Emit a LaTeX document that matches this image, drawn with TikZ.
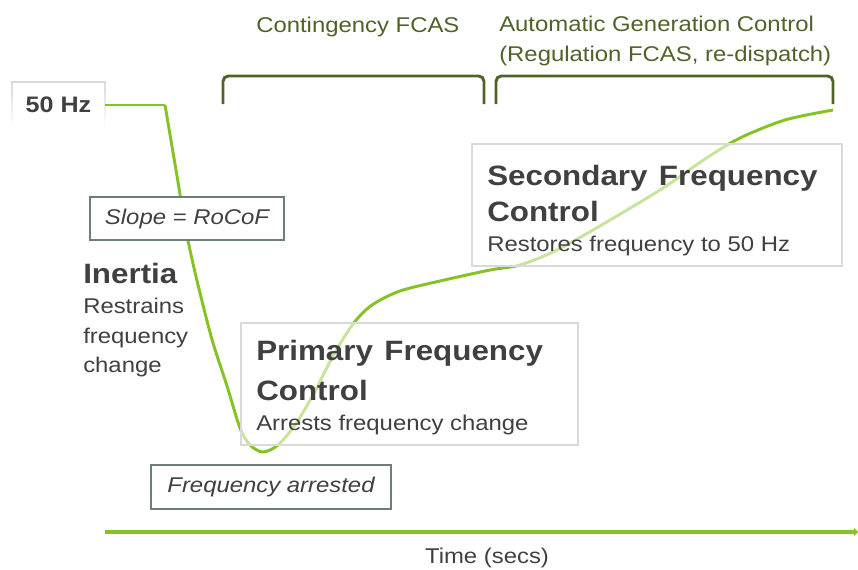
\documentclass[tikz,border=0pt]{standalone}
\usepackage{fontspec}
\setmainfont{Liberation Sans}[FakeStretch=1.12]
\usetikzlibrary{arrows.meta,fadings}
\definecolor{txt}{HTML}{404040}
\definecolor{curvegreen}{HTML}{84C225}
\definecolor{brk}{HTML}{4F6228}
\definecolor{boxln}{HTML}{D9D9D9}
\definecolor{labln}{HTML}{6C8076}
\tikzset{
  txtnode/.style={inner sep=0pt, text=txt, anchor=base west},
  regular/.style={font=\fontsize{16}{19}\selectfont},
  italictxt/.style={font={\fontsize{16}{19}\selectfont\itshape}},
  boldtitle/.style={font=\fontsize{21}{25}\selectfont\bfseries},
  greentxt/.style={inner sep=0pt, text=brk, anchor=base west, font=\fontsize{16}{19}\selectfont},
  bracketline/.style={draw=brk, line width=2.2pt, rounded corners=4pt},
  freqcurve/.style={draw=curvegreen, line width=2.2pt},
  labelbox/.style={draw=labln, line width=1.4pt, fill=white},
  infobox/.style={draw=boxln, line width=0.8pt, fill=white, fill opacity=0.55},
}
\begin{document}
\begin{tikzpicture}[x=0.75pt,y=-0.75pt]
\useasboundingbox (0,0) rectangle (858,569);

% brackets
\draw[bracketline] (223,104) -- (223,76) -- (484,76) -- (484,104);
\draw[bracketline] (496,104) -- (496,76) -- (833,76) -- (833,104);
\node[greentxt] (cont) at (256,32) {Contingency FCAS};
\node[greentxt] (agc1) at (499,31) {Automatic Generation Control};
\node[greentxt] (agc2) at (499,61) {(Regulation FCAS, re-dispatch)};

% 50 Hz box
\draw[boxln, line width=0.8pt, path fading=south] (12,127) -- (12,82) -- (105,82) -- (105,127);
\node[inner sep=0pt, text=txt, font=\fontsize{16.8}{19}\selectfont\bfseries] (hz) at (58.5,105) {50 Hz};

% frequency curve
\draw[freqcurve, line join=miter] (105,105) -- (165,105);
\draw[freqcurve] plot[smooth, tension=0.5] coordinates {
  (165,105) (176,170) (186,230) (194,268) (203,305) (213,343) (227,386)
  (240,428) (250,445) (263,452) (278,445) (295,425) (313,395) (333,356)
  (353,324) (372,305) (400,291) (440,281) (490,270) (520,265) (555,251) (593,230)
  (660,190) (705,159) (740,138) (785,120) (833,110)};

% information boxes (semi-transparent)
\path[infobox] (472,144) rectangle (842,266);
\path[infobox] (241,323) rectangle (578,445);

\node[txtnode, boldtitle] (sec1) at (487,185) {Secondary\hspace{2pt} Frequency};
\node[txtnode, boldtitle] (sec2) at (487,221) {Control};
\node[txtnode, regular] (sec3) at (487,251) {Restores frequency to 50 Hz};

\node[txtnode, boldtitle] (pri1) at (256,360) {Primary\hspace{2pt} Frequency};
\node[txtnode, boldtitle] (pri2) at (256,400) {Control};
\node[txtnode, regular] (pri3) at (256,430) {Arrests frequency change};

\node[txtnode, boldtitle] (in1) at (83,283) {Inertia};
\node[txtnode, regular] (in2) at (83,313) {Restrains};
\node[txtnode, regular] (in3) at (83,343) {frequency};
\node[txtnode, regular] (in4) at (83,372) {change};

% label boxes
\path[labelbox] (90,197) rectangle (284,240);
\node[inner sep=0pt, text=txt, italictxt] (slope) at (187,218.5) {Slope = RoCoF};
\path[labelbox] (151,465) rectangle (391,509);
\node[inner sep=0pt, text=txt, italictxt] (arr) at (271,487) {Frequency arrested};

% time axis
\coordinate (ax0) at (105,532);
\coordinate (ax1) at (858,532);
\draw[draw=curvegreen, line width=2.6pt, -{Triangle[length=3pt,width=6pt]}] (ax0) -- (ax1);
\node[inner sep=0pt, text=txt, regular, anchor=base] (time) at (487,563) {Time (secs)};
\end{tikzpicture}
\end{document}
